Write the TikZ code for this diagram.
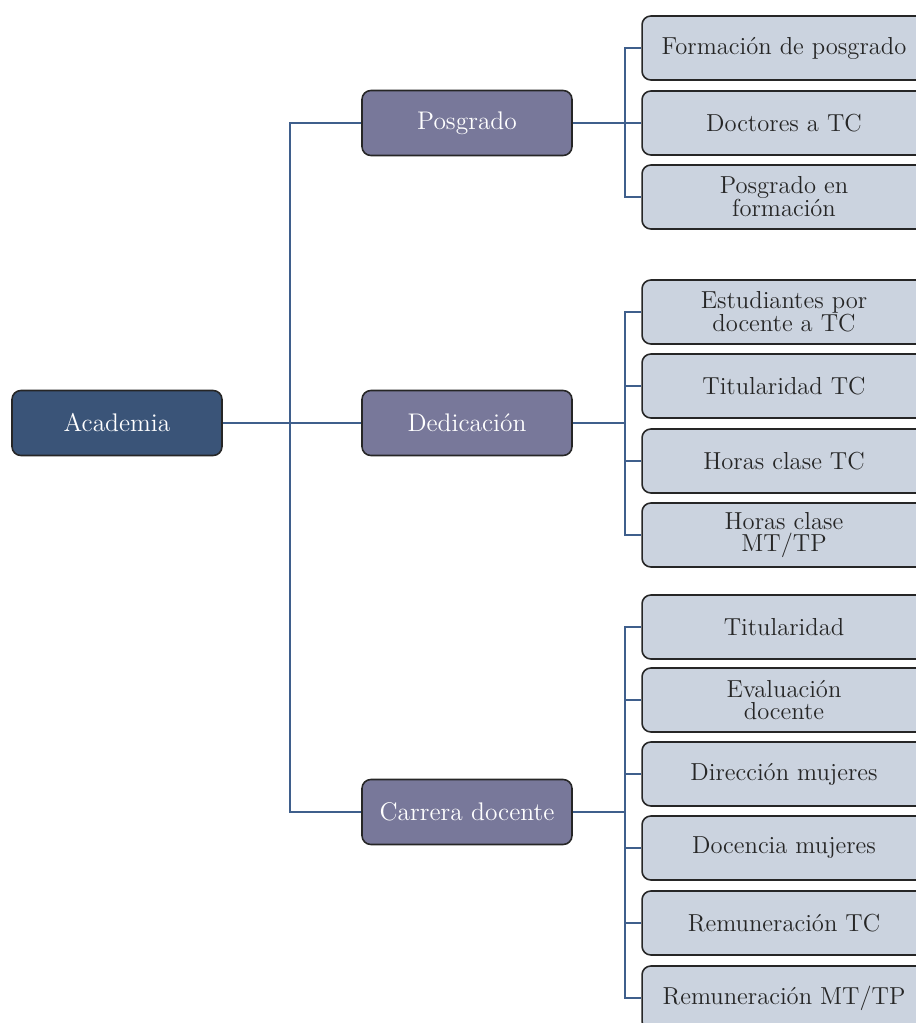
\documentclass[tikz,border=0pt]{standalone}
\usetikzlibrary{calc}
\definecolor{azulraiz}{HTML}{3A5478}
\definecolor{lilarama}{HTML}{78789A}
\definecolor{grishoja}{HTML}{CBD3DF}
\definecolor{azullinea}{HTML}{3F5F8C}
\begin{document}
\begin{tikzpicture}[x=0.02cm,y=-0.02cm,
    raiz/.style={draw=black!85, line width=0.9pt, rounded corners=5pt, fill=azulraiz,
        text=white, minimum width=4.2cm, minimum height=1.3cm, font=\fontsize{14.5}{15}\selectfont},
    rama/.style={raiz, fill=lilarama},
    hoja/.style={draw=black!85, line width=0.9pt, rounded corners=5pt, fill=grishoja,
        text=black!85, minimum width=5.68cm, minimum height=1.28cm, align=center,
        font=\fontsize{14}{13}\selectfont},
    linea/.style={draw=azullinea, line width=0.9pt}]
    \useasboundingbox (0,0) rectangle (915,1023);

    \node[raiz] (academia) at (117,423) {Academia};
    \node[rama] (posgrado) at (467,123) {Posgrado};
    \node[rama] (dedicacion) at (467,423) {Dedicación};
    \node[rama] (carrera) at (467,812) {Carrera docente};

    % hojas de posgrado
    \node[hoja] (p1) at (784,48) {Formación de posgrado};
    \node[hoja] (p2) at (784,123) {Doctores a TC};
    \node[hoja] (p3) at (784,197) {Posgrado en\\formación};

    % hojas de dedicacion
    \node[hoja] (d1) at (784,312) {Estudiantes por\\docente a TC};
    \node[hoja] (d2) at (784,386) {Titularidad TC};
    \node[hoja] (d3) at (784,461) {Horas clase TC};
    \node[hoja] (d4) at (784,535) {Horas clase\\MT/TP};

    % hojas de carrera docente
    \node[hoja] (c1) at (784,627) {Titularidad};
    \node[hoja] (c2) at (784,700) {Evaluación\\docente};
    \node[hoja] (c3) at (784,774) {Dirección mujeres};
    \node[hoja] (c4) at (784,848) {Docencia mujeres};
    \node[hoja] (c5) at (784,923) {Remuneración TC};
    \node[hoja] (c6) at (784,998) {Remuneración MT/TP};

    \coordinate (eje) at (290,423);
    \coordinate (brazo) at (625,0);

    \draw[linea] (academia.east) -- (dedicacion.west);
    \draw[linea] (posgrado.west) -| (eje |- carrera.west) -- (carrera.west);

    \draw[linea] (posgrado.east) -- (posgrado.east -| brazo);
    \draw[linea] (p1.west) -| (brazo |- p3.west) -- (p3.west);
    \draw[linea] (p2.west) -- (p2.west -| brazo);

    \draw[linea] (dedicacion.east) -- (dedicacion.east -| brazo);
    \draw[linea] (d1.west) -| (brazo |- d4.west) -- (d4.west);
    \foreach \h in {d2,d3}
        \draw[linea] (\h.west) -- (\h.west -| brazo);

    \draw[linea] (carrera.east) -- (carrera.east -| brazo);
    \draw[linea] (c1.west) -| (brazo |- c6.west) -- (c6.west);
    \foreach \h in {c2,c3,c4,c5}
        \draw[linea] (\h.west) -- (\h.west -| brazo);
\end{tikzpicture}
\end{document}
